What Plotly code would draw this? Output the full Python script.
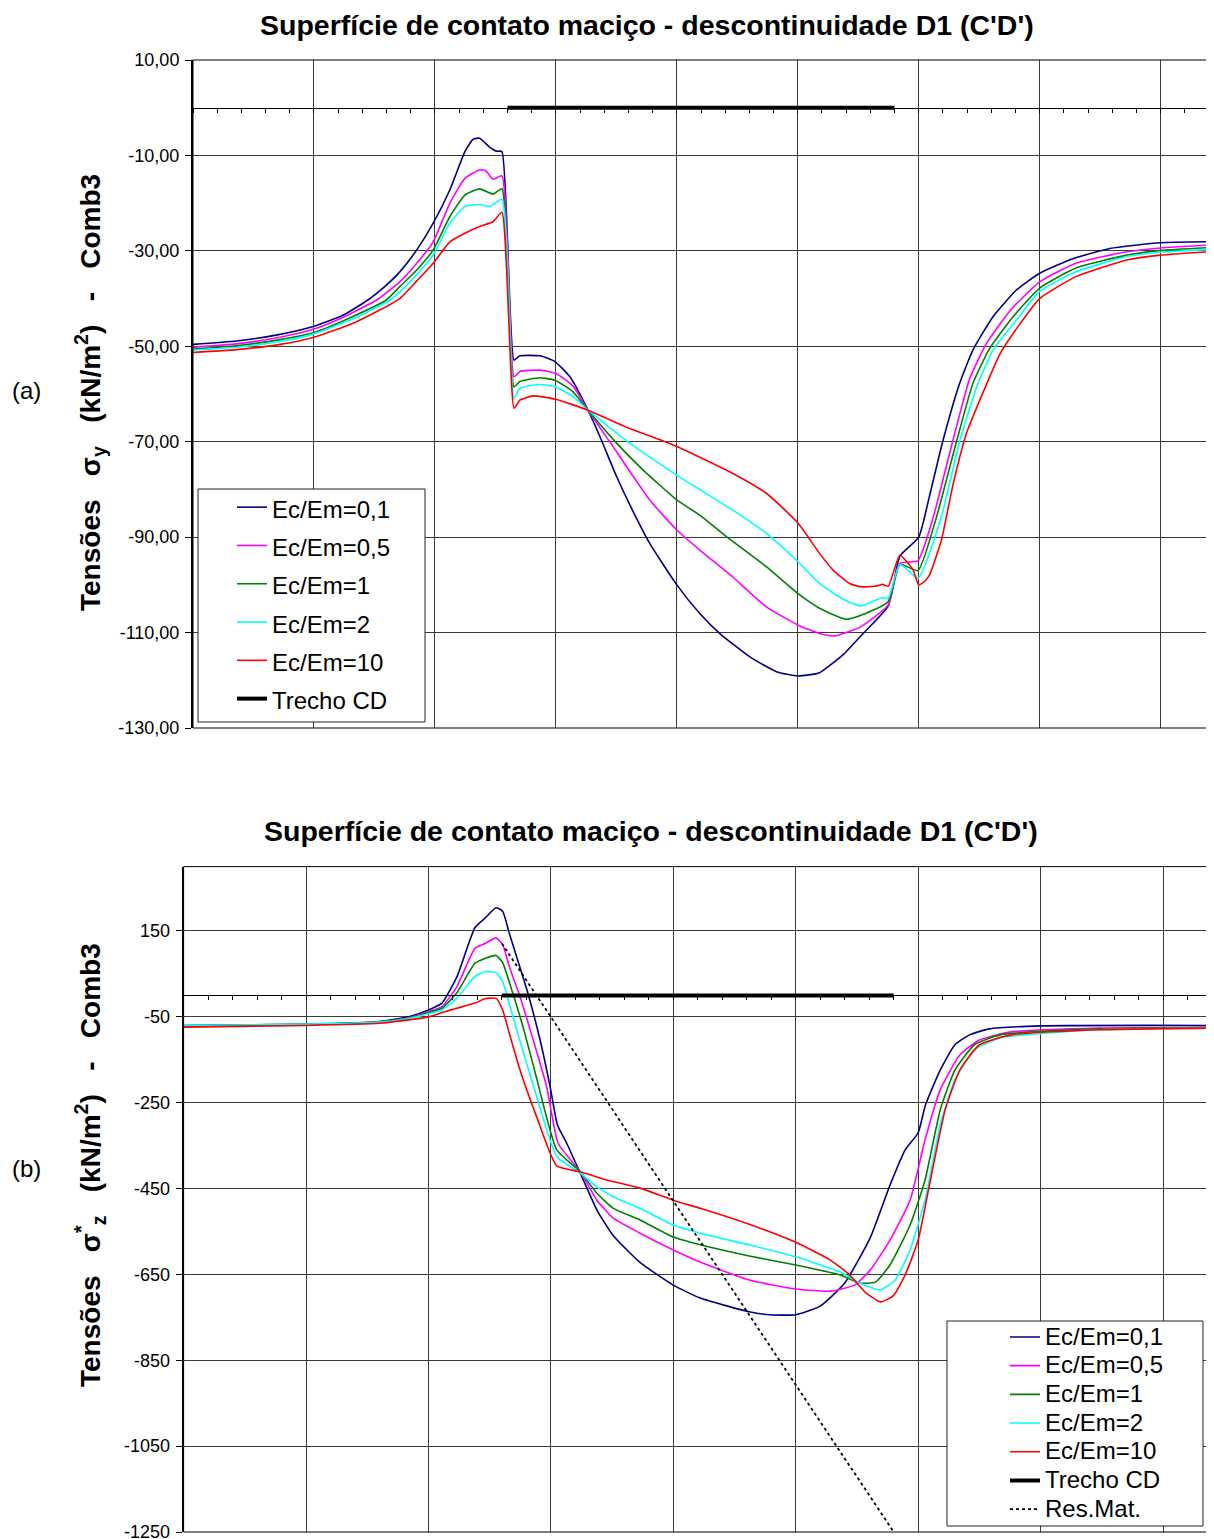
import plotly.graph_objects as go

W, H = 1214, 1539
OFF = 8  # marge du <body> dans la page
FONT = 'Arial, "Liberation Sans", sans-serif'

series_names = ['Ec/Em=0,1', 'Ec/Em=0,5', 'Ec/Em=1', 'Ec/Em=2', 'Ec/Em=10']
series_colors = ['#000080', '#FF00FF', '#008000', '#00FFFF', '#FF0000']

# ---------- (a) tensões sigma_y ----------
sy_x_01 = [0, 1.8, 3.6, 5, 6.2, 7.23, 7.9, 8.55, 9.25, 9.93, 10.62, 11.24, 11.58, 11.85, 12.27, 12.54, 12.77,
           13.27, 13.51, 14.34, 14.96, 15.58, 16.33, 16.82, 17.51, 18.2, 18.88, 20.0, 20.95, 21.78,
           23.02, 24.12, 25.0, 25.9, 26.9, 27.7, 28.74, 29.22, 30.0, 30.44, 30.99, 31.69, 32.24,
           33.07, 34.04, 35.0, 36.4, 37.9, 40.0, 42.0]
sy_01 = [-49.6, -48.9, -47.5, -45.8, -43.5, -40.3, -37.6, -34.4, -29.8, -24.2, -17.2, -9.2, -6.6, -6.4, -8.3, -9.1, -9.2,
         -52.9, -52.0, -52.0, -53.2, -56.4, -63.4, -68.9, -77.3, -84.7, -91.3, -100.0, -106.0, -110.2,
         -115.1, -118.2, -119.1, -118.4, -114.5, -110.2, -104.4, -94.0, -90.0, -81.5, -70.0, -57.8, -50.8,
         -43.8, -38.2, -34.7, -31.6, -29.5, -28.3, -28.1]

sy_x_05 = [0, 1.8, 3.6, 5, 6.3, 7.59, 8.55, 9.25, 9.93, 10.62, 11.24, 11.85, 12.1, 12.4, 12.77, 13.27,
           13.51, 14.34, 15.0, 15.7, 16.33, 17.51, 18.2, 18.88, 20.0, 20.95, 22.3, 23.7, 25.0, 25.9,
           26.5, 27.6, 28.74, 29.22, 29.97, 30.57, 31.4, 32.1, 32.8, 33.8, 35.0, 36.5, 38.6, 40.0, 42.0]
sy_05 = [-50.2, -49.5, -48.1, -46.4, -43.7, -40.3, -36.5, -32.6, -28.1, -20.0, -14.8, -13.05, -13.2, -15.0, -14.3, -56.4,
         -55.3, -55.0, -55.7, -58.3, -63.4, -72.1, -77.3, -82.2, -88.5, -92.7, -98.3, -104.6, -108.4, -110.2,
         -110.7, -108.8, -104.2, -95.5, -94.9, -86.4, -70.0, -56.9, -49.4, -42.4, -36.5, -32.6, -30.2, -29.4, -28.8]

sy_x_1 = [0, 1.8, 3.6, 5, 6.5, 7.99, 8.55, 9.25, 9.93, 10.62, 11.24, 11.85, 12.4, 12.77, 13.27, 13.51,
          14.34, 14.96, 15.7, 16.33, 17.51, 18.6, 20.0, 20.95, 22.05, 23.7, 25.0, 25.9, 27.0, 27.8,
          28.74, 29.22, 29.97, 30.7, 31.56, 32.24, 32.94, 33.9, 35.0, 36.5, 38.6, 40.0, 42.0]
sy_1 = [-50.6, -49.9, -48.6, -47.1, -44.0, -40.3, -37.5, -34.0, -29.8, -22.8, -18.3, -17.0, -18.1, -17.0, -58.5, -57.4,
        -56.6, -57.1, -59.5, -63.4, -70.3, -75.9, -82.2, -85.4, -89.9, -96.2, -101.8, -104.9, -107.2, -106.0,
        -103.5, -95.7, -97.0, -86.4, -70.0, -57.8, -50.4, -43.8, -37.8, -33.6, -30.9, -29.9, -29.3]

sy_x_2 = [0, 1.8, 3.6, 5, 6.6, 8.15, 8.55, 9.25, 9.93, 10.62, 11.24, 11.85, 12.27, 12.77, 13.27, 13.51,
          14.34, 14.96, 15.7, 16.33, 18.06, 20.0, 22.3, 23.7, 25.0, 25.9, 26.8, 27.6, 28.5, 28.74,
          29.22, 29.97, 30.9, 31.69, 32.4, 33.07, 34.04, 35.0, 36.5, 38.6, 40.0, 42.0]
sy_2 = [-50.8, -50.2, -49.0, -47.4, -44.3, -40.3, -38.6, -35.0, -30.9, -24.2, -20.7, -20.3, -20.7, -19.2, -60.9, -58.8,
        -58.0, -58.5, -60.5, -63.4, -70.3, -77.0, -84.3, -89.2, -95.1, -99.7, -102.8, -104.4, -102.7, -102.8,
        -95.7, -98.6, -86.4, -70.0, -58.5, -50.8, -44.5, -38.5, -34.4, -31.2, -30.3, -29.7]

sy_x_10 = [0, 1.8, 3.6, 5, 6.7, 8.55, 9.25, 9.93, 10.62, 11.24, 11.85, 12.4, 12.77, 13.27, 13.51, 14.06,
           15.0, 16.33, 17.9, 20.0, 22.3, 23.7, 25.0, 25.9, 26.46, 27.14, 27.6, 28.2, 28.5, 28.74,
           29.22, 29.77, 30.0, 30.24, 30.45, 30.94, 31.4, 31.97, 32.7, 33.37, 34.2, 35.0, 36.5, 38.6,
           40.0, 42.0]
sy_10 = [-51.3, -50.7, -49.6, -48.1, -45.0, -40.0, -36.3, -32.6, -28.1, -26.3, -24.9, -23.9, -21.9, -63.0, -61.3, -60.4,
         -61.1, -63.4, -66.9, -71.0, -76.6, -80.8, -87.0, -93.4, -96.9, -99.7, -100.4, -100.3, -99.9, -100.3,
         -93.8, -96.9, -100.0, -99.3, -97.9, -90.6, -79.4, -68.3, -59.2, -51.5, -45.2, -40.0, -35.4, -31.9,
         -30.9, -30.2]

# ---------- (b) tensões sigma*_z ----------
sz_x_01 = [0, 5, 8, 9.2, 10, 10.55, 11.16, 11.9, 12.31, 12.76, 13.03, 13.3, 13.6, 14.02, 14.56,
           14.97, 15.27, 15.65, 16.2, 16.88, 17.55, 18.64, 20.0, 21.1, 23.1, 23.95, 25.0, 26.0, 27.0,
           28.04, 28.85, 29.47, 30.0, 30.3, 30.9, 31.5, 32.1, 32.9, 35.0, 42.0]
sz_01 = [-70, -67, -61, -50, -34, -18, 43, 158, 180, 204, 196, 145, 90, 13, -104,
         -213, -302, -345, -414, -500, -560, -622, -675, -705, -737, -744, -744, -724, -670,
         -565, -442, -360, -320, -255, -174, -115, -92, -78, -71, -70]

sz_x_05 = [0, 5, 8, 9.2, 10, 10.55, 11.16, 11.9, 12.31, 12.76, 13.03, 13.3, 13.74, 14.28, 14.83,
           15.3, 16.2, 16.88, 17.55, 18.64, 20.0, 21.1, 23.1, 25.0, 26.4, 27.4, 28.04, 28.85, 29.67,
           30.28, 30.9, 31.7, 32.5, 33.8, 37.4, 42.0]
sz_05 = [-71, -68, -62, -52, -38, -26, 20, 110, 121, 134, 119, 67, -3, -104, -213,
         -345, -411, -477, -519, -554, -593, -621, -663, -684, -689, -675, -640, -570, -477,
         -337, -220, -139, -104, -85, -76, -74]

sz_x_1 = [0, 5, 8, 9.2, 10, 10.55, 11.16, 11.9, 12.31, 12.76, 13.03, 13.4, 13.9, 14.4, 15.24,
          16.2, 16.88, 17.55, 18.64, 20.0, 21.1, 23.1, 25.0, 26.8, 27.6, 28.25, 28.85, 29.67, 30.28,
          30.9, 31.5, 32.3, 33.35, 37.4, 42.0]
sz_1 = [-71, -68, -62, -53, -40, -30, 6, 75, 86, 93, 76, 13, -81, -189, -360,
        -411, -461, -496, -523, -563, -581, -607, -628, -651, -670, -668, -628, -535, -430,
        -267, -174, -115, -92, -78, -75]

sz_x_2 = [0, 5, 8, 9.2, 10, 10.55, 11.16, 11.9, 12.31, 12.76, 13.03, 13.33, 13.81, 14.42, 15.24,
          16.2, 16.88, 17.55, 18.64, 20.0, 21.1, 23.1, 25.0, 26.8, 27.6, 28.45, 29.06, 29.67, 30.28,
          30.9, 31.5, 32.3, 33.35, 37.4, 42.0]
sz_2 = [-70, -67, -62, -54, -43, -34, -7, 44, 55, 53, 32, -26, -120, -236, -376,
        -414, -446, -469, -496, -535, -554, -581, -609, -644, -670, -686, -663, -593, -477,
        -302, -197, -127, -99, -80, -76]

sz_x_10 = [0, 5, 8, 9.2, 10, 10.55, 11.16, 11.9, 12.31, 12.76, 13.03, 13.3, 13.74, 14.42, 15.24,
           16.2, 17.28, 18.64, 20.0, 21.1, 23.1, 25.0, 26.4, 27.2, 27.83, 28.45, 28.98, 29.47, 30.0,
           30.5, 31.1, 31.7, 32.5, 33.8, 37.4, 42.0]
sz_10 = [-74, -70, -65, -57, -50, -40, -30, -18, -8, -7, -34, -88, -174, -283, -397,
         -411, -430, -449, -477, -496, -533, -575, -616, -651, -691, -714, -700, -651, -570,
         -430, -267, -174, -115, -92, -80, -76]

# trecho CD e solução de Resistência dos Materiais
trecho_x = [13, 29]
trecho_y = [0, 0]
resmat_x = [13, 29]
resmat_y = [121, -1250]

# eixos
x_range = [0, 42]
ya_range = [-130, 10]
ya_ticks = list(range(-130, 11, 20))
yb_range = [-1250, 300]
yb_ticks = list(range(-1250, 151, 200))

WF, HF = W - OFF, H - OFF


def px(x):
    return (x - OFF) / WF


def py(y):
    return 1 - (y - OFF) / HF


dom_xa = [px(193), px(1209)]
dom_ya = [py(728), py(60)]
dom_xb = [px(183.6), px(1212)]
dom_yb = [py(1532), py(866.6)]


def zero_pos(dom, rng):
    return dom[0] + (0 - rng[0]) / (rng[1] - rng[0]) * (dom[1] - dom[0])


def leg_name(s):
    return '<span style="font-size:24px">' + s + '</span>'


fig = go.Figure()

top_sets = [(sy_x_01, sy_01), (sy_x_05, sy_05), (sy_x_1, sy_1), (sy_x_2, sy_2), (sy_x_10, sy_10)]
bot_sets = [(sz_x_01, sz_01), (sz_x_05, sz_05), (sz_x_1, sz_1), (sz_x_2, sz_2), (sz_x_10, sz_10)]

for (xs, ys), name, col in zip(top_sets, series_names, series_colors):
    fig.add_trace(go.Scatter(x=xs, y=ys, mode='lines', name=leg_name(name),
                             line=dict(color=col, width=1.6, shape='spline', smoothing=0.5),
                             xaxis='x', yaxis='y', legend='legend'))
fig.add_trace(go.Scatter(x=trecho_x, y=trecho_y, mode='lines', name=leg_name('Trecho CD'),
                         line=dict(color='black', width=4), xaxis='x', yaxis='y', legend='legend'))

for (xs, ys), name, col in zip(bot_sets, series_names, series_colors):
    fig.add_trace(go.Scatter(x=xs, y=ys, mode='lines', name=leg_name(name),
                             line=dict(color=col, width=1.6, shape='spline', smoothing=0.5),
                             xaxis='x2', yaxis='y2', legend='legend2'))
fig.add_trace(go.Scatter(x=trecho_x, y=trecho_y, mode='lines', name=leg_name('Trecho CD'),
                         line=dict(color='black', width=4), xaxis='x2', yaxis='y2', legend='legend2'))
fig.add_trace(go.Scatter(x=resmat_x, y=resmat_y, mode='lines', name=leg_name('Res.Mat.'),
                         line=dict(color='black', width=1.8, dash='dot'), xaxis='x2', yaxis='y2',
                         legend='legend2'))

GRID = '#3a3a3a'


def x_axis(dom, pos):
    return dict(domain=dom, range=x_range, anchor='free', position=pos,
                showline=True, linecolor='black', linewidth=1,
                ticks='outside', ticklen=4, tickcolor='black', tick0=0, dtick=5,
                showticklabels=False, showgrid=True, gridcolor=GRID, gridwidth=1, zeroline=False,
                minor=dict(tick0=0, dtick=1, ticks='outside', ticklen=4, tickcolor='black',
                           showgrid=False))


def y_axis(dom, rng, vals, texts, anchor):
    return dict(domain=dom, range=rng, anchor=anchor, tickvals=vals, ticktext=texts,
                ticks='outside', ticklen=6, tickcolor='black', showline=True, linecolor='black',
                linewidth=2, showgrid=True, gridcolor=GRID, gridwidth=1, zeroline=False,
                ticklabelstandoff=2, ticklabeloverflow='allow',
                tickfont=dict(size=18, family=FONT, color='black'))


fig.update_layout(
    width=WF, height=HF, template='none',
    margin=dict(l=0, r=0, t=0, b=0, pad=0),
    paper_bgcolor='white', plot_bgcolor='white',
    font=dict(family=FONT, color='black', size=18),
    showlegend=True,
    xaxis=x_axis(dom_xa, zero_pos(dom_ya, ya_range)),
    yaxis=y_axis(dom_ya, ya_range, ya_ticks,
                 [f'{v:.2f}'.replace('.', ',') for v in ya_ticks], 'x'),
    xaxis2=x_axis(dom_xb, zero_pos(dom_yb, yb_range)),
    yaxis2=y_axis(dom_yb, yb_range, yb_ticks, [str(v) for v in yb_ticks], 'x2'),
    legend=dict(x=px(232), y=py(483), xanchor='left', yanchor='top',
                bgcolor='rgba(0,0,0,0)', borderwidth=0,
                font=dict(family=FONT, size=27.15, color='black')),
    legend2=dict(x=px(1005), y=py(1317.6), xanchor='left', yanchor='top',
                 bgcolor='rgba(0,0,0,0)', borderwidth=0,
                 font=dict(family=FONT, size=19.77, color='black')),
)

fig.update_layout(shapes=[
    dict(type='rect', xref='x domain', yref='y domain', x0=0, x1=1, y0=0, y1=1,
         line=dict(color='black', width=1), layer='above'),
    dict(type='rect', xref='x2 domain', yref='y2 domain', x0=0, x1=1, y0=0, y1=1,
         line=dict(color='black', width=1), layer='above'),
    dict(type='rect', xref='paper', yref='paper', x0=px(198), x1=px(425), y0=py(722), y1=py(489),
         fillcolor='white', line=dict(color='#222', width=1), layer='above'),
    dict(type='rect', xref='paper', yref='paper', x0=px(947), x1=px(1203), y0=py(1526), y1=py(1321),
         fillcolor='white', line=dict(color='#222', width=1), layer='above'),
])

title_txt = "<b>Superfície de contato maciço - descontinuidade D1 (C'D')</b>"
sp = '\u00a0\u00a0\u00a0'
ytitle_a = '<b>Tensões' + sp + 'σ<sub>y</sub>' + sp + '(kN/m<sup>2</sup>)' + sp + '-' + sp + 'Comb3</b>'
ytitle_b = '<b>Tensões' + sp + 'σ<sup>*</sup><sub>z</sub>' + sp + '(kN/m<sup>2</sup>)' + sp + '-' + sp + 'Comb3</b>'

fig.update_layout(annotations=[
    dict(text=title_txt, x=px(647), y=py(25), xref='paper', yref='paper', showarrow=False,
         xanchor='center', yanchor='middle', font=dict(family=FONT, size=28.5, color='black')),
    dict(text=title_txt, x=px(651), y=py(831), xref='paper', yref='paper', showarrow=False,
         xanchor='center', yanchor='middle', font=dict(family=FONT, size=28.5, color='black')),
    dict(text=ytitle_a, x=px(90), y=py(393), xref='paper', yref='paper', showarrow=False,
         textangle=-90, xanchor='center', yanchor='middle', font=dict(family=FONT, size=28, color='black')),
    dict(text=ytitle_b, x=px(90), y=py(1165), xref='paper', yref='paper', showarrow=False,
         textangle=-90, xanchor='center', yanchor='middle', font=dict(family=FONT, size=28, color='black')),
    dict(text='(a)', x=px(26), y=py(390), xref='paper', yref='paper', showarrow=False,
         xanchor='center', yanchor='middle', font=dict(family=FONT, size=24, color='black')),
    dict(text='(b)', x=px(26), y=py(1168), xref='paper', yref='paper', showarrow=False,
         xanchor='center', yanchor='middle', font=dict(family=FONT, size=24, color='black')),
])

fig.write_html("out.html")
